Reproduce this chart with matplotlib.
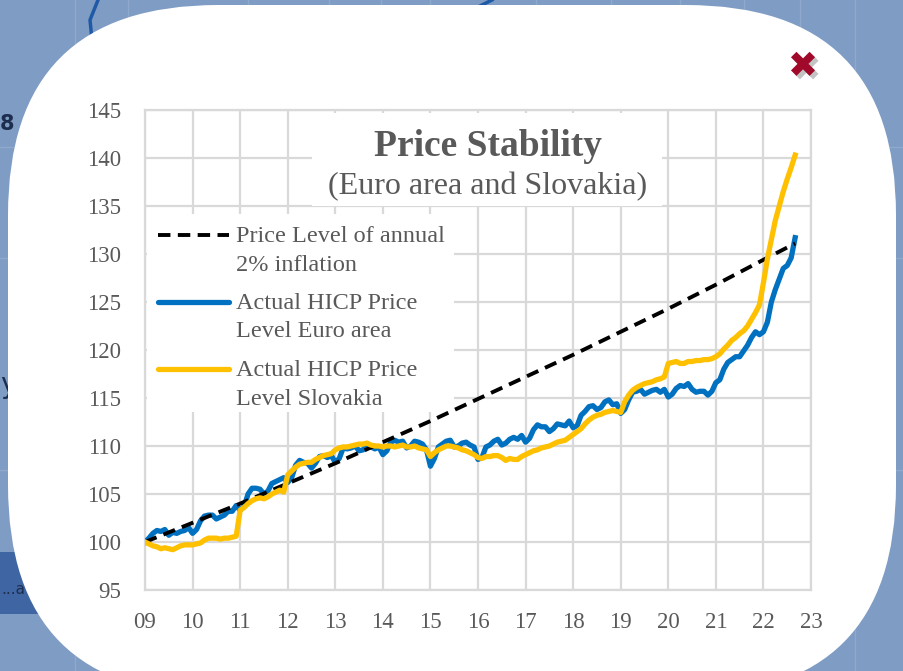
import numpy as np
import matplotlib.pyplot as plt
import matplotlib.patheffects as pe
from matplotlib.patches import FancyBboxPatch, Rectangle
from matplotlib.lines import Line2D

# data: HICP price level, Jan 2009 = 100, monthly Jan 2009 .. Sep 2022
euro_area = [
    100.0, 100.4, 100.9, 101.2, 101.1, 101.3, 100.7, 101.0, 100.9, 101.1, 101.2, 101.5,  # 2009
    100.9, 101.3, 102.2, 102.7, 102.8, 102.8, 102.4, 102.6, 102.8, 103.2, 103.2, 103.8,  # 2010
    103.3, 103.7, 105.0, 105.6, 105.6, 105.5, 105.0, 105.3, 106.1, 106.3, 106.5, 106.7,  # 2011
    106.2, 106.7, 108.0, 108.5, 108.3, 108.2, 107.7, 108.2, 108.9, 109.0, 108.8, 109.0,  # 2012
    108.3, 108.7, 109.8, 109.7, 109.8, 110.0, 109.5, 109.6, 110.1, 109.9, 109.7, 109.9,  # 2013
    109.1, 109.5, 110.4, 110.6, 110.4, 110.5, 109.8, 110.0, 110.5, 110.4, 110.2, 109.6,  # 2014
    107.9, 108.7, 109.9, 110.2, 110.5, 110.6, 109.9, 110.0, 110.3, 110.4, 110.1, 109.9,  # 2015
    108.6, 108.8, 109.9, 110.1, 110.5, 110.7, 110.1, 110.3, 110.7, 110.9, 110.7, 111.1,  # 2016
    110.4, 110.8, 111.7, 112.2, 112.0, 112.0, 111.5, 111.8, 112.3, 112.2, 112.1, 112.6,  # 2017
    111.9, 112.1, 113.2, 113.6, 114.1, 114.2, 113.8, 114.0, 114.6, 114.8, 114.3, 114.4,  # 2018
    113.4, 113.8, 114.8, 115.6, 115.7, 115.9, 115.4, 115.6, 115.8, 115.9, 115.6, 115.9,  # 2019
    115.1, 115.4, 116.0, 116.3, 116.2, 116.5, 115.9, 115.6, 115.7, 115.7, 115.3, 115.7,  # 2020
    116.6, 116.9, 118.0, 118.7, 119.0, 119.3, 119.3, 119.9, 120.5, 121.3, 121.9, 121.6,  # 2021
    121.9, 122.9, 125.0, 126.3, 127.4, 128.5, 128.8, 129.6, 131.7,                       # 2022
]
slovakia = [
    100.0, 99.8, 99.6, 99.5, 99.3, 99.4, 99.3, 99.2, 99.4, 99.6, 99.7, 99.7,             # 2009
    99.7, 99.8, 99.9, 100.2, 100.4, 100.4, 100.4, 100.3, 100.4, 100.4, 100.5, 100.6,     # 2010
    103.3, 103.6, 104.0, 104.3, 104.5, 104.6, 104.5, 104.7, 105.0, 105.2, 105.4, 105.2,  # 2011
    107.0, 107.4, 107.8, 108.1, 108.2, 108.3, 108.3, 108.6, 108.8, 109.0, 109.1, 109.2,  # 2012
    109.6, 109.8, 109.9, 109.9, 110.0, 110.1, 110.2, 110.2, 110.3, 110.1, 110.0, 110.0,  # 2013
    109.9, 110.0, 110.0, 109.9, 110.0, 110.1, 109.9, 109.9, 110.0, 109.8, 109.7, 109.6,  # 2014
    108.9, 109.3, 109.6, 109.8, 110.0, 110.0, 109.9, 109.8, 109.6, 109.5, 109.3, 109.1,  # 2015
    108.8, 108.7, 108.9, 108.9, 109.0, 109.0, 108.8, 108.5, 108.7, 108.6, 108.6, 108.9,  # 2016
    109.1, 109.3, 109.5, 109.6, 109.8, 109.9, 110.0, 110.2, 110.4, 110.5, 110.6, 110.9,  # 2017
    111.2, 111.5, 111.8, 112.3, 112.7, 113.0, 113.2, 113.3, 113.5, 113.6, 113.7, 113.6,  # 2018
    113.5, 114.6, 115.3, 115.8, 116.1, 116.3, 116.5, 116.6, 116.7, 116.9, 117.0, 117.2,  # 2019
    118.6, 118.7, 118.8, 118.6, 118.6, 118.8, 118.8, 118.9, 118.9, 119.0, 119.0, 119.1,  # 2020
    119.3, 119.6, 120.1, 120.5, 121.0, 121.3, 121.7, 122.0, 122.5, 123.2, 123.9, 124.7,  # 2021
    127.0, 129.5, 131.5, 133.5, 135.0, 136.5, 137.8, 139.0, 140.3,                       # 2022
]
# price level path of 2% annual inflation
target_years = [2009, 2010, 2011, 2012, 2013, 2014, 2015, 2016, 2017, 2018,
                2019, 2020, 2021, 2022, 2022 + 8 / 12]
target_level = [100.0, 102.0, 104.0, 106.1, 108.2, 110.4, 112.6, 114.9, 117.2,
                119.5, 121.9, 124.3, 126.8, 129.4, 131.1]

years = list(range(2009, 2024))
year_labels = ["%02d" % (y % 100) for y in years]
y_ticks = list(range(95, 150, 5))

months = 2009 + np.arange(len(euro_area)) / 12

text_color = "#595959"
serif = "Liberation Serif"
W, H = 904, 671

fig = plt.figure(figsize=(W / 100, H / 100), dpi=100)
fig.patch.set_facecolor("#7f9cc4")

# background slide + white card, in pixel coordinates
bg = fig.add_axes([0, 0, 1, 1], zorder=0)
bg.set_xlim(0, W)
bg.set_ylim(H, 0)
bg.axis("off")
for gx in [75, 128, 248, 329, 381, 430, 536, 611, 680, 744, 800, 855]:
    bg.plot([gx, gx], [0, H], color="#8fa9cd", lw=1, zorder=0)
for gy in [147, 258, 470]:
    bg.plot([0, W], [gy, gy], color="#8fa9cd", lw=1, zorder=0)
bg.plot([98, 90, 92], [0, 20, 40], color="#1f5aa6", lw=2.5, zorder=1)
bg.plot([468, 480, 492], [18, 6, 0], color="#1f5aa6", lw=2.5, zorder=1)
bg.add_patch(FancyBboxPatch((-40, 552), 160, 62, boxstyle="round,pad=0,rounding_size=28",
                            fc="#3f66a3", ec="none", zorder=1))
bg.text(1, 590, "...a", color="#1d2d4f", fontsize=11, va="center", zorder=2)
bg.text(0, 124, "8", color="#1d2d4f", fontsize=15, va="center", fontweight="bold", zorder=2)
bg.text(0, 385, "y", color="#1d2d4f", fontsize=20, va="center", zorder=2)
bg.add_patch(FancyBboxPatch((8, 5), 888, 690, boxstyle="round,pad=0,rounding_size=210",
                            fc="white", ec="none", zorder=3))
bg.text(803, 67, "\u2716", color="#a0092a", fontsize=26, ha="center", va="center",
        family="DejaVu Sans", zorder=5,
        path_effects=[pe.SimplePatchShadow(offset=(2.5, -2.5), shadow_rgbFace="#888888", alpha=0.5),
                      pe.Normal()])

# chart
ax = fig.add_axes([145 / W, 1 - 590 / H, 666 / W, 480 / H], zorder=1)
ax.patch.set_alpha(0)
ax.plot(months, euro_area, color="#0070c0", lw=3.8, zorder=4, solid_joinstyle="round")
ax.plot(target_years, target_level, color="black", lw=2.8, ls=(0, (3.2, 1.9)), zorder=5)
ax.plot(months, slovakia, color="#ffc000", lw=3.8, zorder=6, solid_joinstyle="round")

ax.set_xlim(2009, 2023)
ax.set_ylim(95, 145)
ax.set_xticks(years)
ax.set_xticklabels(year_labels)
ax.set_yticks(y_ticks)
ax.grid(True, color="#d9d9d9", lw=1.6)
ax.set_axisbelow(True)
for s in ax.spines.values():
    s.set_color("#d9d9d9")
    s.set_linewidth(1.6)
ax.tick_params(length=0, labelsize=16.5, labelcolor=text_color)
ax.tick_params(axis="y", pad=17)
ax.tick_params(axis="x", pad=16)
for lab in ax.get_xticklabels() + ax.get_yticklabels():
    lab.set_family(serif)

# title box
px = bg.transData
ax.add_patch(Rectangle((312, 113), 350, 93, transform=px, fc="white", ec="none",
                       zorder=3, clip_on=False))
ax.text(488.5, 155.6, "Price Stability", transform=px, ha="center", va="baseline",
        fontsize=27, fontweight="bold", color=text_color, family=serif, zorder=7)
ax.text(488, 194.5, "(Euro area and Slovakia)", transform=px, ha="center", va="baseline",
        fontsize=23, color=text_color, family=serif, zorder=7)

# legend
ax.add_patch(Rectangle((147, 214), 307, 198, transform=px, fc="white", ec="none",
                       zorder=3, clip_on=False))
entries = [
    ("black", (0, (3.2, 1.9)), 2.8, 235, ["Price Level of annual", "2% inflation"], 242.5),
    ("#0070c0", "-", 3.8, 302, ["Actual HICP Price", "Level Euro area"], 308.8),
    ("#ffc000", "-", 3.8, 369, ["Actual HICP Price", "Level Slovakia"], 376.4),
]
for color, ls, lw, ly, lines, base in entries:
    ax.add_line(Line2D([158, 229], [ly, ly], transform=px, color=color, ls=ls, lw=lw,
                       solid_capstyle="round", zorder=7, clip_on=False))
    for k, line in enumerate(lines):
        ax.text(236, base + k * 28.6, line, transform=px, ha="left", va="baseline",
                fontsize=17.5, color=text_color, family=serif, zorder=7)

fig.savefig("out.png", dpi=100)
